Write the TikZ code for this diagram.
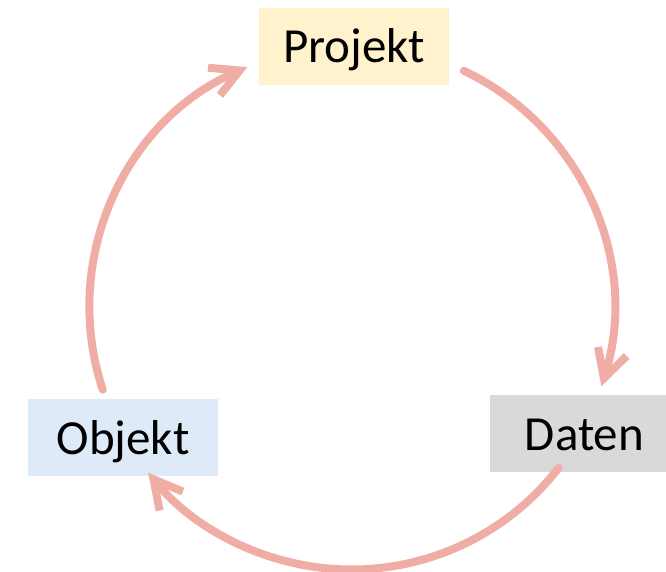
\documentclass[tikz,border=0pt]{standalone}
\usepackage{fontspec}
\setmainfont{Carlito}
\usetikzlibrary{arrows.meta,calc}
\definecolor{cycle}{RGB}{240,173,165}
\definecolor{projfill}{RGB}{255,242,204}
\definecolor{datafill}{RGB}{217,217,217}
\definecolor{objfill}{RGB}{222,234,247}
\tikzset{
  stage/.style={minimum width=190pt, minimum height=77pt, inner sep=0pt,
    text height=32.4pt, text depth=0pt, font=\fontsize{49}{55}\selectfont},
  flow/.style={draw=cycle, line width=8pt, line cap=round,
    -{Straight Barb[length=28pt, width=30pt]}}
}
\begin{document}
\begin{tikzpicture}[x=1pt, y=1pt]
  \clip (0,0) rectangle (666,-571);
  % the three stages
  \node[stage, fill=projfill] (projekt) at (354,-46.5) {Projekt};
  \node[stage, fill=datafill] (daten) at (584.5,-433.8) {Daten};
  \node[stage, fill=objfill] (objekt) at (123,-437.8) {Objekt};
  % the cycle runs on one circle around the middle
  \coordinate (mid) at (351.5,-307.5);
  \coordinate (fromprojekt) at ($(mid)+(64.6:262)$);
  \coordinate (fromdaten) at ($(mid)+(-37.8:262)$);
  \coordinate (fromobjekt) at ($(mid)+(198.3:262)$);
  \draw[flow] (fromprojekt) arc[start angle=64.6, end angle=-17.5, radius=262];
  \draw[flow] (fromdaten) arc[start angle=-37.8, end angle=-140.9, radius=262];
  \draw[flow] (fromobjekt) arc[start angle=198.3, end angle=113.4, radius=262];
\end{tikzpicture}
\end{document}
